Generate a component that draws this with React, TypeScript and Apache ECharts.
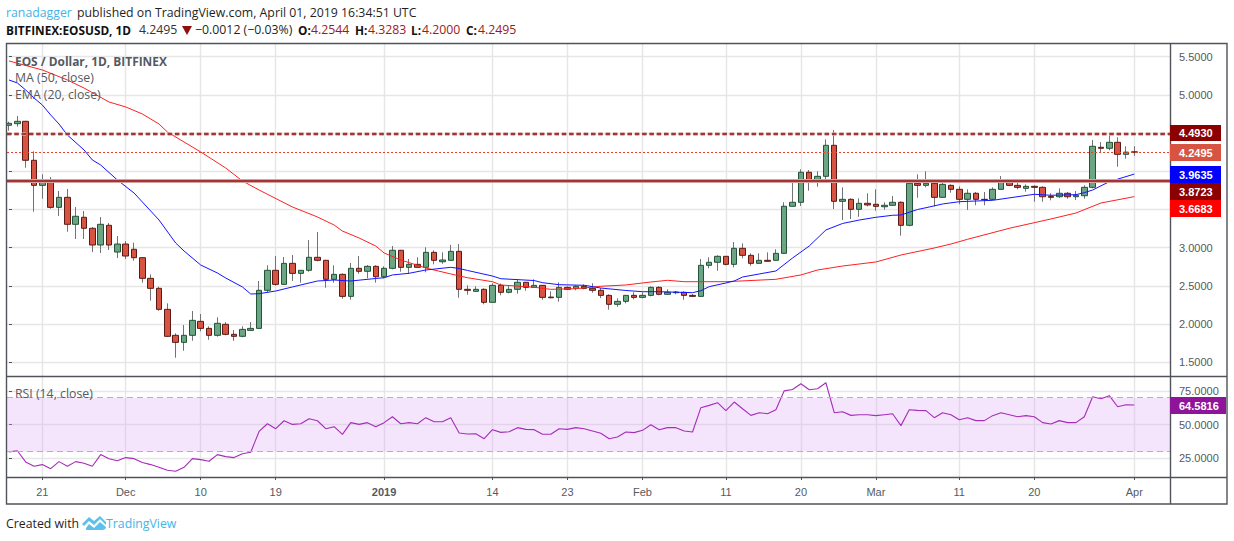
import React, { useEffect, useRef } from "react";
import * as echarts from "echarts";

const opens = [
  4.602,4.623,4.654,4.144,3.816,3.860,3.528,3.659,3.306,3.398,
  3.254,3.035,3.293,2.943,3.048,2.979,2.869,2.599,2.468,2.193,
  1.853,1.761,1.853,2.036,1.944,1.853,1.997,1.866,1.840,1.918,
  1.944,2.442,2.704,2.520,2.795,2.664,2.704,2.874,2.835,2.586,
  2.651,2.363,2.730,2.691,2.756,2.620,2.730,2.966,2.743,2.782,
  2.743,2.939,2.816,2.835,2.952,2.455,2.429,2.455,2.285,2.507,
  2.416,2.455,2.547,2.481,2.507,2.354,2.350,2.481,2.468,2.494,
  2.468,2.442,2.376,2.259,2.298,2.376,2.350,2.376,2.481,2.390,
  2.411,2.416,2.376,2.363,2.769,2.809,2.887,2.782,2.992,2.900,
  2.795,2.835,2.835,2.926,3.542,3.594,3.987,3.869,3.934,4.340,
  3.607,3.633,3.502,3.581,3.568,3.536,3.555,3.594,3.293,3.843,
  3.816,3.843,3.659,3.816,3.764,3.633,3.712,3.633,3.633,3.764,
  3.869,3.816,3.777,3.803,3.790,3.672,3.667,3.712,3.667,3.680,
  3.790,4.314,4.301,4.379,4.222,4.2544,
];
const closes = [
  4.628,4.654,4.144,3.816,3.860,3.528,3.659,3.306,3.411,3.254,
  3.035,3.306,3.035,3.048,2.891,2.869,2.599,2.468,2.193,1.840,
  1.761,1.853,2.049,1.944,1.853,2.010,1.866,1.840,1.931,1.944,
  2.442,2.704,2.520,2.795,2.664,2.704,2.874,2.835,2.586,2.651,
  2.363,2.730,2.691,2.756,2.620,2.730,2.966,2.743,2.782,2.743,
  2.939,2.835,2.839,2.952,2.455,2.442,2.455,2.285,2.507,2.416,
  2.455,2.547,2.481,2.507,2.350,2.345,2.481,2.455,2.494,2.468,
  2.442,2.376,2.259,2.298,2.376,2.350,2.376,2.481,2.390,2.416,
  2.420,2.376,2.363,2.769,2.809,2.887,2.782,2.992,2.900,2.795,
  2.835,2.822,2.926,3.542,3.594,3.987,3.869,3.934,4.340,3.607,
  3.633,3.502,3.581,3.559,3.541,3.555,3.594,3.293,3.843,3.816,
  3.843,3.659,3.829,3.764,3.633,3.712,3.633,3.628,3.764,3.869,
  3.816,3.790,3.803,3.790,3.667,3.659,3.712,3.667,3.686,3.790,
  4.327,4.301,4.379,4.222,4.2507,4.2495,
];
const lows = [
  4.531,4.584,4.047,3.471,3.641,3.510,3.415,3.209,3.113,3.113,
  2.943,2.930,2.970,2.865,2.852,2.830,2.542,2.306,2.175,1.831,
  1.560,1.651,1.782,1.905,1.795,1.835,1.853,1.782,1.827,1.918,
  1.940,2.416,2.502,2.515,2.564,2.542,2.686,2.821,2.476,2.542,
  2.332,2.319,2.659,2.599,2.542,2.599,2.717,2.686,2.659,2.740,
  2.678,2.782,2.790,2.830,2.345,2.384,2.425,2.259,2.280,2.377,
  2.403,2.398,2.437,2.478,2.319,2.337,2.293,2.450,2.442,2.455,
  2.411,2.341,2.188,2.227,2.272,2.324,2.337,2.363,2.377,2.385,
  2.390,2.319,2.360,2.360,2.730,2.698,2.769,2.743,2.861,2.764,
  2.790,2.820,2.830,2.920,3.540,3.545,3.746,3.798,3.895,3.506,
  3.362,3.375,3.405,3.541,3.484,3.497,3.550,3.157,3.280,3.654,
  3.790,3.541,3.655,3.720,3.568,3.493,3.555,3.555,3.620,3.760,
  3.807,3.764,3.733,3.602,3.602,3.620,3.650,3.641,3.624,3.641,
  3.777,4.248,4.275,4.060,4.165,4.200,
];
const highs = [
  4.649,4.724,4.660,4.262,3.960,3.925,3.742,3.768,3.532,3.480,
  3.270,3.401,3.323,3.153,3.087,3.065,2.878,2.651,2.489,2.272,
  1.879,1.988,2.171,2.132,1.971,2.089,2.027,1.922,1.971,2.027,
  2.564,2.769,2.891,2.878,2.904,2.704,3.100,3.205,2.840,2.769,
  2.664,2.799,2.891,2.773,2.770,2.756,3.022,2.970,2.852,2.874,
  3.005,2.966,2.939,3.035,3.048,2.507,2.494,2.468,2.534,2.530,
  2.507,2.586,2.550,2.586,2.510,2.429,2.547,2.494,2.507,2.520,
  2.534,2.472,2.390,2.337,2.380,2.416,2.416,2.494,2.494,2.455,
  2.433,2.429,2.394,2.852,2.874,2.900,2.890,3.074,3.057,2.926,
  2.926,2.939,2.979,3.594,3.882,4.026,4.017,4.000,4.419,4.540,
  3.790,3.646,3.646,3.712,3.764,3.594,3.676,3.607,3.882,3.960,
  4.000,3.869,3.895,3.829,3.803,3.764,3.729,3.729,3.790,3.938,
  3.886,3.869,3.829,3.816,3.803,3.712,3.777,3.729,3.742,3.816,
  4.409,4.383,4.471,4.445,4.327,4.3283,
];

// Sessions are numbered from 17 Nov 2018 (session 0) to 1 Apr 2019 (session 135).
const maSessions = [0,1,2,3,4,5,6,7,9,10,11,13,15,17,18,20,21,23,25,26,28,29,30,32,34,35,37,39,41,44,45,46,48,50,53,54,55,58,59,63,64,66,69,71,74,76,78,82,83,84,86,87,88,90,92,94,96,98,100,102,104,106,107,109,110,112,114,118,123,125,128,129,130,132,135];
const maValues = [5.195,5.156,5.064,4.959,4.868,4.737,4.619,4.475,4.279,4.148,4.082,3.886,3.716,3.480,3.362,3.061,2.957,2.773,2.669,2.603,2.486,2.394,2.398,2.433,2.486,2.512,2.564,2.577,2.564,2.597,2.607,2.643,2.665,2.708,2.743,2.728,2.702,2.629,2.594,2.570,2.542,2.516,2.508,2.472,2.440,2.424,2.424,2.411,2.437,2.490,2.538,2.564,2.616,2.656,2.695,2.865,3.022,3.232,3.317,3.362,3.398,3.424,3.428,3.500,3.523,3.572,3.602,3.620,3.699,3.686,3.694,3.720,3.755,3.864,3.9635];

const emaSessions = [0,4,7,9,12,14,16,18,19,23,26,28,30,34,37,39,40,42,44,45,47,50,53,55,58,59,63,65,68,71,74,77,79,81,86,92,95,97,100,104,107,111,113,115,120,125,128,131,135];
const emaValues = [5.444,5.326,5.195,5.090,4.907,4.842,4.750,4.619,4.514,4.253,4.043,3.873,3.755,3.533,3.402,3.297,3.218,3.127,3.022,2.931,2.839,2.734,2.656,2.607,2.555,2.512,2.482,2.455,2.463,2.495,2.512,2.551,2.573,2.555,2.555,2.586,2.643,2.708,2.760,2.813,2.904,2.996,3.048,3.110,3.254,3.376,3.454,3.585,3.6683];

const rsiValues = [
  29.8,30.7,22.4,19.2,20.4,17.4,22.6,19.2,22.6,21.4,
  19.2,27.8,24.8,23.3,25.6,24.8,21.9,20.4,18.4,16.2,
  15.5,18.4,24.8,24.1,22.9,27.8,26.3,25.6,28.5,29.5,
  45.0,50.7,47.0,52.9,50.2,50.7,54.4,52.9,47.0,48.5,
  42.8,51.5,50.2,51.5,48.5,51.5,55.9,50.7,51.5,50.7,
  55.2,52.2,52.2,55.2,43.8,43.1,43.3,39.6,46.3,44.3,
  44.8,47.8,46.5,46.3,42.9,42.9,47.0,46.5,47.8,47.0,
  45.3,43.6,39.6,40.9,44.6,44.1,45.8,50.0,46.3,47.8,
  47.8,45.3,44.6,62.6,64.3,66.3,60.4,66.8,61.8,56.9,
  58.9,58.1,61.1,75.1,76.1,80.3,75.9,76.6,81.1,58.9,
  59.6,56.9,57.4,57.4,56.7,57.4,58.1,49.3,61.1,60.6,
  60.4,55.2,58.9,57.4,53.7,55.2,53.0,53.0,56.7,58.9,
  57.4,55.9,56.7,55.9,51.5,50.5,53.0,51.5,51.5,55.9,
  70.7,69.2,71.5,63.3,64.8,64.5816,
];

const dateTickSessions = [4,14,23,32,45,58,67,76,86,95,104,114,123,135];
const dateTickLabels = ["21","Dec","10","19","2019","14","23","Feb","11","20","Mar","11","20","Apr"];
const priceGrid = [1.5,2,2.5,3,3.5,4,4.5,5,5.5];
const priceLabels = [1.5,2,2.5,3,5,5.5];
const rsiTicks = [25,50,75];

const resistance = 4.493;
const support = 3.8723;
const lastClose = 4.2495;

const AXIS_FONT = "'Liberation Sans', Arial, sans-serif";
const HEAD_FONT = "'Open Sans', 'Noto Sans', sans-serif";
const TEXT_GREY = "#555a61";
const GRID = "#e6e6e6";
const FRAME = "#50535a";
const WICK = "#737375";
const BLUE_TEXT = "#45b5e6";
const RED_TEXT = "#a01818";

echarts.graphic.registerShape(
  "tvLogo",
  echarts.graphic.extendPath(
    "M0 8 L7 1 L12 5 L18 0 L24 6 L24 9 L18 3 L12 9 L7 5 L2 10 Z M4 12 L7 8 L12 12 L18 6 L24 11 Q24 14 20 14 L6 14 Q3 14 4 12 Z",
    {}
  )
);

const txt = (x: number, y: number, text: string, fill: string, font: string, extra: any = {}) => ({
  type: "text",
  x,
  y,
  z: 20,
  silent: true,
  style: { text, fill, font, verticalAlign: "middle", ...extra },
});

const tag = (top: number, bottom: number, right: number, bg: string, label: string) => [
  { type: "rect", z: 18, silent: true, shape: { x: 1170, y: top, width: right - 1170, height: bottom - top }, style: { fill: bg } },
  txt(1179, (top + bottom) / 2, label, "#ffffff", `bold 11px ${AXIS_FONT}`),
];

export default function App() {
  const ref = useRef<HTMLDivElement>(null);

  useEffect(() => {
    document.body.style.margin = "0";
    const chart = echarts.init(ref.current!, undefined, { renderer: "svg" });

    const wickData = opens.map((o, i) => [i, o, closes[i], lows[i], highs[i]]);
    const bodyData = opens.map((o, i) => [i, o, closes[i], Math.min(o, closes[i]), Math.max(o, closes[i])]);

    const xAxisBase = {
      type: "value",
      min: -0.24,
      max: 139.28,
      axisLine: { show: false },
      splitLine: { show: true, lineStyle: { color: GRID, width: 1.4 } },
    };

    chart.setOption({
      animation: false,
      backgroundColor: "#ffffff",
      grid: [
        { left: 7, top: 43, width: 1163, height: 333 },
        { left: 7, top: 376, width: 1163, height: 101 },
      ],
      xAxis: [
        {
          ...xAxisBase,
          gridIndex: 0,
          axisTick: { show: false, customValues: dateTickSessions },
          axisLabel: { show: false, customValues: dateTickSessions },
        },
        {
          ...xAxisBase,
          gridIndex: 1,
          axisTick: { show: true, length: 3, customValues: dateTickSessions, lineStyle: { color: FRAME } },
          axisLabel: {
            show: true,
            customValues: dateTickSessions,
            margin: 9,
            color: TEXT_GREY,
            fontFamily: AXIS_FONT,
            fontSize: 11,
            formatter: (v: number) => {
              const label = dateTickLabels[dateTickSessions.indexOf(v)] ?? "";
              return label === "2019" ? `{b|${label}}` : label;
            },
            rich: { b: { fontWeight: "bold", fontSize: 11, fontFamily: AXIS_FONT, color: TEXT_GREY } },
          },
        },
      ],
      yAxis: [
        {
          type: "value",
          gridIndex: 0,
          position: "right",
          min: 1.3207,
          max: 5.679,
          axisLine: { show: false },
          axisTick: { show: true, length: 3, customValues: priceGrid, lineStyle: { color: FRAME } },
          splitLine: { show: true, lineStyle: { color: GRID, width: 1.4 } },
          axisLabel: {
            customValues: priceLabels,
            margin: 9,
            color: TEXT_GREY,
            fontFamily: AXIS_FONT,
            fontSize: 11,
            formatter: (v: number) => v.toFixed(4),
          },
        },
        {
          type: "value",
          gridIndex: 1,
          position: "right",
          min: 11.2,
          max: 86.1,
          axisLine: { show: false },
          axisTick: { show: true, length: 3, customValues: rsiTicks, lineStyle: { color: FRAME } },
          splitLine: { show: true, lineStyle: { color: GRID, width: 1.4 } },
          axisLabel: {
            customValues: rsiTicks,
            margin: 9,
            color: TEXT_GREY,
            fontFamily: AXIS_FONT,
            fontSize: 11,
            formatter: (v: number) => v.toFixed(4),
          },
        },
      ],
      series: [
        {
          name: "EMA",
          type: "line",
          xAxisIndex: 0,
          yAxisIndex: 0,
          showSymbol: false,
          data: emaSessions.map((s, i) => [s, emaValues[i]]),
          lineStyle: { color: "#ff2020", width: 1 },
        },
        {
          name: "MA",
          type: "line",
          xAxisIndex: 0,
          yAxisIndex: 0,
          showSymbol: false,
          data: maSessions.map((s, i) => [s, maValues[i]]),
          lineStyle: { color: "#1414ff", width: 1 },
        },
        {
          name: "Wicks",
          type: "candlestick",
          xAxisIndex: 0,
          yAxisIndex: 0,
          barWidth: 1,
          data: wickData,
          itemStyle: { color: WICK, color0: WICK, borderColor: WICK, borderColor0: WICK, borderWidth: 1 },
        },
        {
          name: "EOS / Dollar",
          type: "candlestick",
          xAxisIndex: 0,
          yAxisIndex: 0,
          barWidth: 6,
          data: bodyData,
          itemStyle: {
            color: "#6ba583",
            color0: "#d75442",
            borderColor: "#225437",
            borderColor0: "#5b1a13",
            borderWidth: 1,
          },
          markLine: {
            silent: true,
            symbol: "none",
            label: { show: false },
            animation: false,
            data: [
              { yAxis: support, lineStyle: { color: "#d9a0a0", width: 4, type: "solid" } },
              { yAxis: support, lineStyle: { color: "#8b1414", width: 1.6, type: "solid" } },
              { yAxis: resistance, lineStyle: { color: "#d9a0a0", width: 3.5, type: [4.5, 2.8] } },
              { yAxis: resistance, lineStyle: { color: "#8b1414", width: 1.6, type: [4.5, 2.8] } },
              { yAxis: lastClose, lineStyle: { color: "#e8402c", width: 1, type: [2, 2] } },
            ],
          },
        },
        {
          name: "RSI",
          type: "line",
          xAxisIndex: 1,
          yAxisIndex: 1,
          showSymbol: false,
          data: rsiValues.map((v, i) => [i, v]),
          lineStyle: { color: "#a52db8", width: 1.1 },
          markArea: {
            silent: true,
            itemStyle: { color: "rgba(220,170,250,0.3)" },
            data: [[{ yAxis: 30 }, { yAxis: 70 }]],
          },
          markLine: {
            silent: true,
            symbol: "none",
            label: { show: false },
            lineStyle: { color: "#b9adbe", width: 1, type: [6, 4] },
            data: [{ yAxis: 70 }, { yAxis: 30 }],
          },
        },
      ],
      graphic: [
        { type: "rect", z: 17, silent: true, shape: { x: 6.5, y: 43.5, width: 1220.5, height: 460.5 }, style: { fill: "none", stroke: FRAME, lineWidth: 1.4 } },
        { type: "line", z: 17, silent: true, shape: { x1: 6.5, y1: 376.5, x2: 1227, y2: 376.5 }, style: { stroke: FRAME, lineWidth: 1.4 } },
        { type: "line", z: 17, silent: true, shape: { x1: 6.5, y1: 477.5, x2: 1227, y2: 477.5 }, style: { stroke: FRAME, lineWidth: 1.4 } },
        { type: "line", z: 17, silent: true, shape: { x1: 1170.5, y1: 43.5, x2: 1170.5, y2: 504 }, style: { stroke: FRAME, lineWidth: 1.4 } },

        txt(6, 12.5, "ranadagger", BLUE_TEXT, `12.3px ${HEAD_FONT}`),
        txt(77, 12.5, "published on TradingView.com, April 01, 2019 16:34:51 UTC", "#1f1f1f", `12.3px ${HEAD_FONT}`),
        txt(6, 29.5, "BITFINEX:EOSUSD, 1D", "#111111", `bold 11.8px ${HEAD_FONT}`),
        txt(139, 29.5, "4.2495", "#333333", `12.3px ${HEAD_FONT}`),
        { type: "polygon", z: 20, silent: true, shape: { points: [[182, 26], [192, 26], [187, 35]] }, style: { fill: "#8f0f0f" } },
        txt(195, 29.5, "\u22120.0012 (\u22120.03%)", "#1f1f1f", `12.3px ${HEAD_FONT}`),
        txt(298, 29.5, "O:", "#111111", `bold 11.8px ${HEAD_FONT}`),
        txt(311, 29.5, "4.2544", RED_TEXT, `12.3px ${HEAD_FONT}`),
        txt(355, 29.5, "H:", "#111111", `bold 11.8px ${HEAD_FONT}`),
        txt(368, 29.5, "4.3283", RED_TEXT, `12.3px ${HEAD_FONT}`),
        txt(411, 29.5, "L:", "#111111", `bold 11.8px ${HEAD_FONT}`),
        txt(422, 29.5, "4.2000", RED_TEXT, `12.3px ${HEAD_FONT}`),
        txt(466, 29.5, "C:", "#111111", `bold 11.8px ${HEAD_FONT}`),
        txt(478, 29.5, "4.2495", RED_TEXT, `12.3px ${HEAD_FONT}`),

        txt(15, 60.5, "EOS / Dollar, 1D, BITFINEX", TEXT_GREY, `bold 11.9px ${HEAD_FONT}`),
        txt(15, 77.5, "MA (50, close)", TEXT_GREY, `12.3px ${HEAD_FONT}`),
        txt(15, 94.5, "EMA (20, close)", TEXT_GREY, `12.3px ${HEAD_FONT}`),
        txt(15, 393.5, "RSI (14, close)", TEXT_GREY, `12.3px ${HEAD_FONT}`),

        ...tag(125, 141, 1221, "#8b0000", "4.4930"),
        ...tag(144, 161, 1221, "#d75442", "4.2495"),
        ...tag(166, 183, 1221, "#0000ff", "3.9635"),
        ...tag(183, 200, 1221, "#8b0000", "3.8723"),
        ...tag(200, 217, 1221, "#ff0000", "3.6683"),
        ...tag(397, 414, 1226, "#8e1599", "64.5816"),

        txt(6, 523.5, "Created with", "#1f1f1f", `12.3px ${HEAD_FONT}`),
        { type: "tvLogo", x: 82, y: 516, z: 20, silent: true, style: { fill: "#5cc1ea" } },
        txt(106, 523.5, "TradingView", BLUE_TEXT, `12.3px ${HEAD_FONT}`),
      ],
    });

    return () => chart.dispose();
  }, []);

  return <div ref={ref} style={{ width: 1234, height: 541, background: "#fff" }} />;
}
